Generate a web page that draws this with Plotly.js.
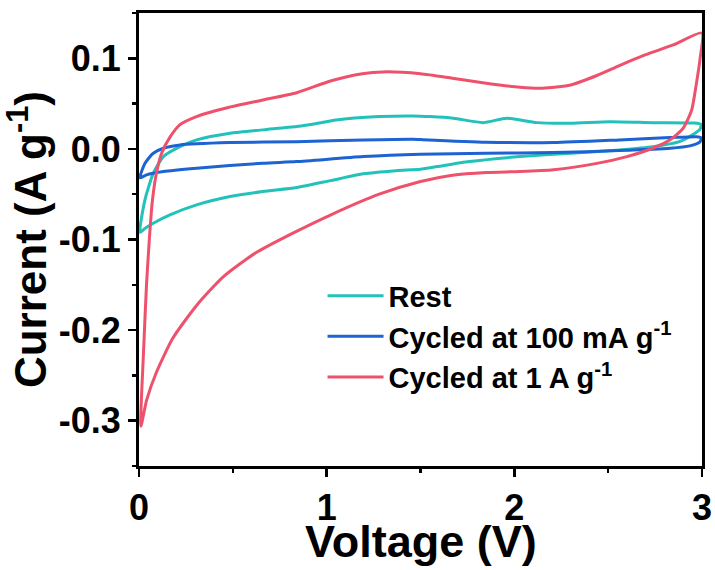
<!DOCTYPE html>
<html>
<head>
<meta charset="utf-8">
<script src="https://cdn.plot.ly/plotly-3.0.1.min.js"></script>
<style>
  html, body { margin: 0; padding: 0; background: #fff; }
  #chart { width: 715px; height: 570px; }
</style>
</head>
<body>
<div id="chart"></div>
<script>
// Series names
const seriesNames = ["Rest", "Cycled at 100 mA g<sup>-1</sup>", "Cycled at 1 A g<sup>-1</sup>"];

// Rest (closed CV loop: anodic branch 0->3 V, then cathodic branch 3->0 V)
const restV = [0.005, 0.032, 0.076, 0.13, 0.218, 0.307, 0.485, 0.66, 0.84, 0.947, 1.05, 1.28, 1.46, 1.55, 1.675, 1.835, 1.96, 2.12, 2.30, 2.51, 2.74, 2.96, 2.995, 2.99, 2.95, 2.88, 2.74, 2.56, 2.30, 2.03, 1.76, 1.59, 1.50, 1.37, 1.195, 1.02, 0.84, 0.66, 0.485, 0.307, 0.165, 0.076, 0.03, 0.005];
const restI = [-0.092, -0.056, -0.027, -0.0085, 0.0025, 0.0099, 0.0173, 0.021, 0.0246, 0.028, 0.032, 0.0357, 0.0364, 0.0357, 0.0339, 0.029, 0.0339, 0.029, 0.0283, 0.0301, 0.029, 0.0285, 0.027, 0.022, 0.0155, 0.008, 0.0025, -0.0011, -0.0048, -0.0085, -0.014, -0.0195, -0.0224, -0.024, -0.0275, -0.035, -0.0425, -0.047, -0.0526, -0.0618, -0.0728, -0.082, -0.088, -0.092];

// Cycled at 100 mA g-1
const c100V = [0.005, 0.032, 0.076, 0.13, 0.218, 0.485, 0.84, 1.195, 1.46, 1.50, 1.85, 2.21, 2.56, 2.83, 2.97, 2.995, 2.99, 2.935, 2.83, 2.56, 2.21, 1.85, 1.50, 1.195, 0.84, 0.66, 0.307, 0.13, 0.04, 0.005];
const c100I = [-0.032, -0.0158, -0.0048, 0.0007, 0.0044, 0.007, 0.008, 0.0099, 0.0107, 0.0103, 0.0074, 0.007, 0.0099, 0.0125, 0.0135, 0.0125, 0.008, 0.0033, 0.0007, -0.0019, -0.0041, -0.0048, -0.0059, -0.0085, -0.014, -0.0158, -0.0213, -0.025, -0.0287, -0.032];

// Cycled at 1 A g-1
const c1V = [0.01, 0.025, 0.04, 0.055, 0.07, 0.09, 0.12, 0.165, 0.22, 0.31, 0.48, 0.66, 0.84, 1.02, 1.19, 1.30, 1.50, 1.67, 1.85, 2.03, 2.15, 2.30, 2.44, 2.56, 2.70, 2.85, 3.0, 2.99, 2.97, 2.945, 2.90, 2.83, 2.74, 2.60, 2.44, 2.21, 2.03, 1.85, 1.67, 1.50, 1.28, 1.02, 0.82, 0.62, 0.45, 0.31, 0.18, 0.094, 0.041, 0.01];
const c1I = [-0.306, -0.22, -0.15, -0.10, -0.06, -0.03, -0.005, 0.013, 0.027, 0.036, 0.046, 0.054, 0.062, 0.075, 0.083, 0.085, 0.083, 0.078, 0.0725, 0.068, 0.067, 0.0706, 0.081, 0.092, 0.104, 0.115, 0.128, 0.10, 0.072, 0.043, 0.023, 0.010, 0.001, -0.0085, -0.016, -0.023, -0.025, -0.026, -0.029, -0.036, -0.050, -0.073, -0.093, -0.115, -0.141, -0.172, -0.209, -0.246, -0.277, -0.306];

const seriesColors = ["#22C1B9", "#1D63D1", "#EE516B"];

// Axis ticks and titles
const xTickVals = [0, 1, 2, 3];
const xTickText = ["0", "1", "2", "3"];
const yTickVals = [0.1, 0.0, -0.1, -0.2, -0.3];
const yTickText = ["0.1", "0.0", "-0.1", "-0.2", "-0.3"];
const xTitle = "Voltage (V)";
const yTitle = "Current (A g<sup>-1</sup>)";

const FONT = "Arial, 'Liberation Sans', sans-serif";

const seriesX = [restV, c100V, c1V];
const seriesY = [restI, c100I, c1I];

const traces = seriesNames.map((n, i) => ({
  type: "scatter",
  mode: "lines",
  name: n,
  x: seriesX[i],
  y: seriesY[i],
  line: { color: seriesColors[i], width: 3, shape: "spline", smoothing: 0.6 },
  legendgroup: "g" + i,
  hoverinfo: "skip"
}));

const axisCommon = {
  showline: true,
  linecolor: "#000",
  linewidth: 3,
  mirror: true,
  ticks: "outside",
  ticklen: 8,
  tickwidth: 2.5,
  tickcolor: "#000",
  showgrid: false,
  zeroline: false,
  automargin: false,
  tickfont: { family: FONT, size: 36, color: "#000", weight: "bold" }
};

const layout = {
  width: 715,
  height: 570,
  margin: { l: 139, r: 13, t: 13, b: 104 },
  paper_bgcolor: "#fff",
  plot_bgcolor: "#fff",
  showlegend: true,
  xaxis: Object.assign({}, axisCommon, {
    range: [0, 3],
    tickmode: "array",
    tickvals: xTickVals,
    ticktext: xTickText,
    minor: { dtick: 0.5, ticks: "outside", ticklen: 4, tickwidth: 2.5, tickcolor: "#000" }
  }),
  yaxis: Object.assign({}, axisCommon, {
    range: [-0.35, 0.15],
    tickmode: "array",
    tickvals: yTickVals,
    ticktext: yTickText,
    minor: { dtick: 0.05, ticks: "outside", ticklen: 4, tickwidth: 2.5, tickcolor: "#000" },
    title: { text: yTitle, font: { family: FONT, size: 44, color: "#000", weight: "bold" } }
  }),
  annotations: [{
    text: xTitle,
    xref: "paper", yref: "paper",
    x: 0.5, y: -0.166,
    xanchor: "center", yanchor: "middle",
    showarrow: false,
    font: { family: FONT, size: 45, color: "#000", weight: "bold" }
  }],
  legend: {
    x: 0.326,
    y: 0.432,
    xanchor: "left",
    yanchor: "top",
    bgcolor: "rgba(0,0,0,0)",
    font: { family: FONT, size: 29, color: "#000", weight: "bold" },
    traceorder: "grouped",
    tracegroupgap: 0,
    itemwidth: 56
  }
};

Plotly.newPlot("chart", traces, layout, { displayModeBar: false, staticPlot: true });
</script>
</body>
</html>
